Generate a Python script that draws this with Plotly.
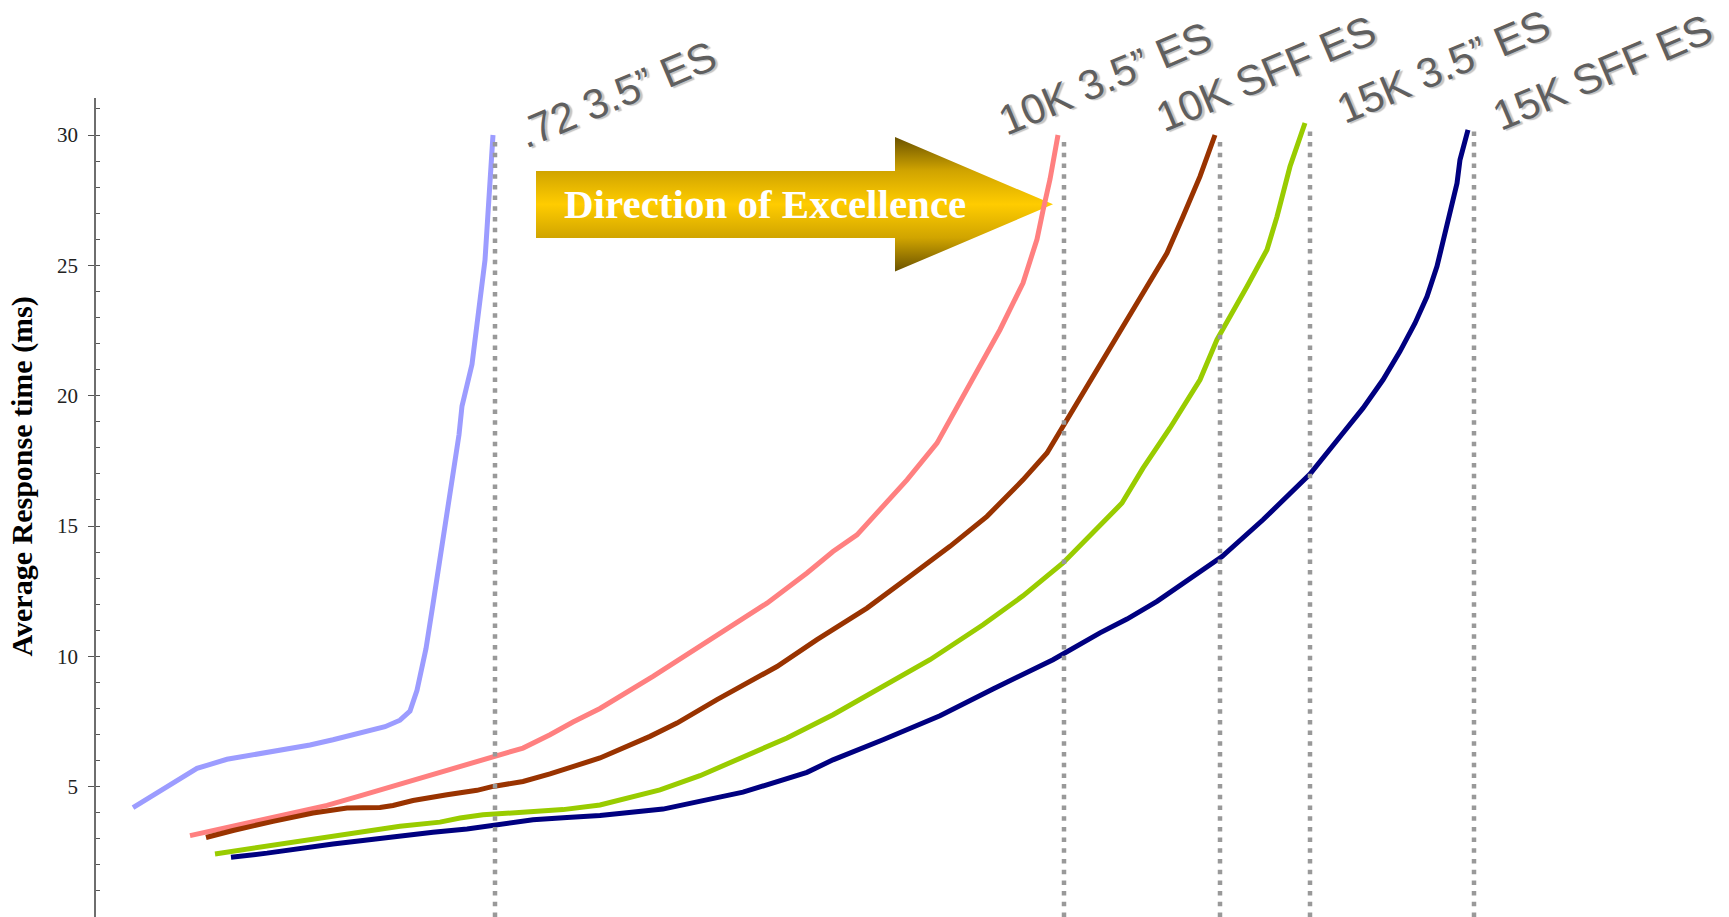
import plotly.graph_objects as go

# ---- Response-time curves (x = relative I/O load, y = ms) ----
es72_35_x = [37, 84, 101, 131, 147, 181, 214, 237, 264, 289, 304, 314, 321, 326, 330, 337,
             344, 349, 363, 366, 376, 389, 397]
es72_35_y = [4.2, 5.3, 5.7, 6.05, 6.15, 6.4, 6.6, 6.8, 7.05, 7.3, 7.55, 7.9, 8.7, 9.5, 10.3, 12.0,
             13.8, 14.9, 18.5, 19.6, 21.2, 25.2, 30.0]

k10_35_x = [94, 137, 187, 211, 231, 264, 291, 321, 351, 396, 427, 454, 477, 504, 557, 627, 671,
            711, 737, 761, 795, 811, 841, 874, 904, 927, 941, 947, 954, 962]
k10_35_y = [3.12, 3.48, 3.92, 4.14, 4.28, 4.65, 4.95, 5.29, 5.62, 6.1, 6.48, 6.99, 7.48, 8.0, 9.23,
            10.96, 12.04, 13.2, 14.02, 14.66, 16.07, 16.77, 18.18, 20.48, 22.53, 24.32, 26.0, 27.1,
            28.3, 30.0]

k10_sff_x = [110, 137, 177, 217, 251, 284, 297, 317, 351, 381, 397, 427, 454, 481, 504, 554, 581,
             621, 681, 721, 771, 814, 854, 891, 927, 951, 967, 997, 1024, 1047, 1071, 1087, 1104,
             1119]
k10_sff_y = [3.05, 3.32, 3.67, 3.99, 4.18, 4.2, 4.28, 4.47, 4.69, 4.86, 5.01, 5.2, 5.49, 5.82, 6.1,
             6.93, 7.44, 8.34, 9.61, 10.64, 11.85, 13.07, 14.22, 15.37, 16.77, 17.8, 18.82, 20.74,
             22.4, 23.94, 25.47, 26.87, 28.41, 30.0]

k15_35_x = [119, 171, 237, 304, 344, 364, 387, 431, 467, 504, 564, 604, 651, 691, 737, 781, 834,
            887, 927, 967, 1004, 1026, 1047, 1074, 1104, 1121, 1151, 1171, 1181, 1194, 1209]
k15_35_y = [2.42, 2.73, 3.12, 3.48, 3.64, 3.8, 3.92, 4.01, 4.12, 4.3, 4.88, 5.42, 6.23, 6.87, 7.76,
            8.72, 9.87, 11.21, 12.32, 13.58, 15.05, 15.88, 17.22, 18.76, 20.61, 22.15, 24.19, 25.6,
            26.87, 28.79, 30.46]

k15_sff_x = [135, 171, 237, 304, 337, 371, 397, 437, 471, 504, 567, 604, 647, 711, 737, 787, 844,
             897, 957, 1004, 1031, 1061, 1097, 1126, 1167, 1214, 1247, 1267, 1287, 1304, 1319, 1331,
             1341, 1347, 1361, 1364, 1372]
k15_sff_y = [2.29, 2.45, 2.8, 3.13, 3.25, 3.38, 3.51, 3.73, 3.82, 3.89, 4.14, 4.43, 4.79, 5.55, 6.03,
             6.8, 7.72, 8.75, 9.87, 10.9, 11.43, 12.11, 13.07, 13.83, 15.24, 16.99, 18.57, 19.52,
             20.61, 21.7, 22.78, 23.8, 24.96, 25.98, 28.15, 29.05, 30.2]

# Saturation limit of each drive type (dotted markers) and its label
limit_x = [399, 968, 1124, 1214, 1378]
limit_top = [29.9, 29.9, 29.9, 30.3, 30.2]
drive_names = [".72 3.5\u201d ES", "10K 3.5\u201d ES", "10K SFF ES", "15K 3.5\u201d ES", "15K SFF ES"]

y_ticks = [5, 10, 15, 20, 25, 30]

series = [
    (es72_35_x, es72_35_y, "#9c9cff"),
    (k10_35_x, k10_35_y, "#ff8080"),
    (k10_sff_x, k10_sff_y, "#993300"),
    (k15_35_x, k15_35_y, "#99cc00"),
    (k15_sff_x, k15_sff_y, "#000080"),
]

fig = go.Figure()

# Block arrow "Direction of Excellence" (drawn first so the curves sit on top)
arrow_x = [440, 799, 799, 957, 799, 799, 440, 440]
arrow_y = [28.62, 28.62, 29.92, 27.34, 24.76, 26.05, 26.05, 28.62]
fig.add_trace(go.Scatter(
    x=arrow_x, y=arrow_y, mode="lines", fill="toself",
    line=dict(width=0, color="rgba(0,0,0,0)"),
    fillgradient=dict(
        type="vertical",
        colorscale=[[0, "#6a5200"], [0.25, "#d0a400"], [0.5, "#ffcc00"],
                    [0.75, "#d0a400"], [1, "#6a5200"]],
    ),
    hoverinfo="skip", showlegend=False,
))

for xs, ys, col in series:
    fig.add_trace(go.Scatter(
        x=xs, y=ys, mode="lines",
        line=dict(color=col, width=5, shape="linear"),
        showlegend=False, hoverinfo="skip",
    ))

for lx, lt in zip(limit_x, limit_top):
    fig.add_trace(go.Scatter(
        x=[lx, lx], y=[0, lt], mode="lines",
        line=dict(color="#999999", width=4.5, dash="4.5px,6.2px"),
        showlegend=False, hoverinfo="skip",
    ))

# Drive-type labels above each limit line (centres in paper coordinates)
label_pos = [(0.319, 1.0045), (0.6178, 1.0234), (0.7164, 1.0302), (0.8251, 1.0388), (0.9223, 1.0308)]
annotations = []
for name, (px, py) in zip(drive_names, label_pos):
    annotations.append(dict(
        x=px, y=py, xref="paper", yref="paper", text=name, showarrow=False,
        xanchor="center", yanchor="middle", textangle=-23,
        font=dict(family="Liberation Sans, Arial, sans-serif", size=42, color="#5f5f5f",
                  shadow="2px 2px 1px #c4c4c4"),
    ))

annotations.append(dict(
    x=669, y=27.34, xref="x", yref="y", text="<b>Direction of Excellence</b>",
    showarrow=False, xanchor="center", yanchor="middle",
    font=dict(family="Liberation Serif, Times New Roman, serif", size=41, color="#ffffff"),
))

annotations.append(dict(
    x=-0.0453, y=0.538, xref="paper", yref="paper",
    text="<b>Average Response time (ms)</b>", showarrow=False, textangle=-90,
    xanchor="center", yanchor="middle",
    font=dict(family="Liberation Serif, Times New Roman, serif", size=30, color="#000000"),
))

fig.update_layout(
    width=1729, height=917,
    margin=dict(l=96, r=0, t=98, b=0, pad=0),
    paper_bgcolor="white", plot_bgcolor="white",
    annotations=annotations,
    xaxis=dict(range=[0, 1633], visible=False, showgrid=False, zeroline=False),
    yaxis=dict(
        range=[0, 31.42], showgrid=False, zeroline=False,
        showline=True, linecolor="#6e6e6e", linewidth=1.5,
        tickmode="array", tickvals=y_ticks, ticktext=[str(v) for v in y_ticks],
        ticks="outside", ticklen=6, tickwidth=1.2, tickcolor="#555555",
        ticklabelstandoff=6,
        tickfont=dict(family="Liberation Serif, Times New Roman, serif", size=21, color="#222222"),
        minor=dict(tickmode="linear", tick0=0, dtick=1, ticks="inside", ticklen=4,
                   tickwidth=1, tickcolor="#555555"),
    ),
)

fig.write_html("out.html", include_plotlyjs=True,
               post_script="document.body.style.margin='0';",
               config={"displayModeBar": False})
